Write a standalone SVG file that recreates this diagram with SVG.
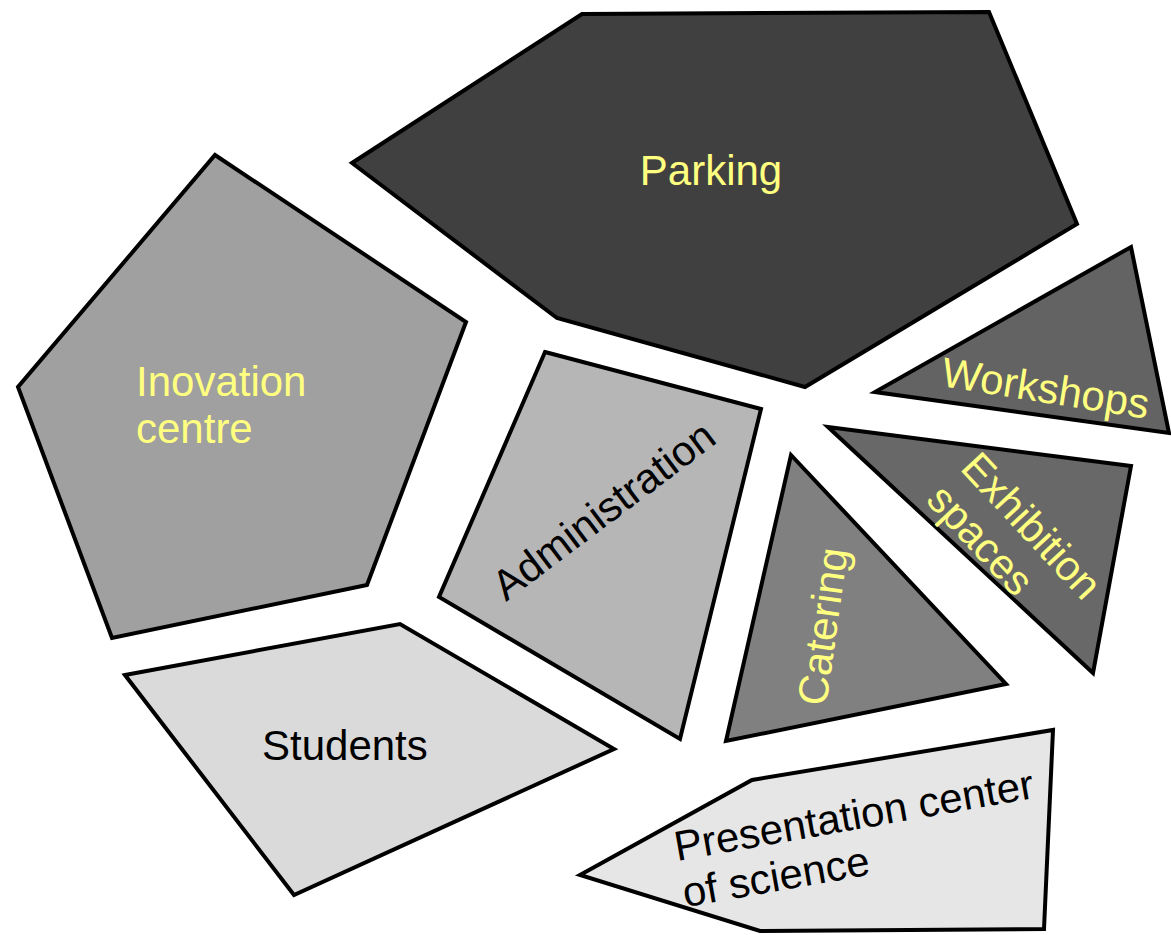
<svg xmlns="http://www.w3.org/2000/svg" width="1171" height="935" viewBox="0 0 1171 935">
<style>
.b{stroke:#000;stroke-width:4;stroke-linejoin:miter}
.t{font-family:"Liberation Sans",Arial,sans-serif;font-size:42px}
.y{fill:#ffff80}
.k{fill:#000}
</style>
<rect width="1171" height="935" fill="#fff"/>
<g id="parking">
<polygon class="b" fill="#404040" points="582,14 989,12 1077,224 805,387 557,318 352,163"/>
<text class="t y" x="711" y="185" text-anchor="middle">Parking</text>
</g>
<g id="workshops">
<polygon class="b" fill="#636363" points="1131,247 1169,433 875,392"/>
<text class="t y" transform="translate(940,386) rotate(9)">Workshops</text>
</g>
<g id="exhibition">
<polygon class="b" fill="#686868" points="828,427 1131,466 1093,673"/>
<text class="t y" transform="translate(959,469) rotate(47)"><tspan x="0" y="0">Exhibition</tspan><tspan x="0" y="47">spaces</tspan></text>
</g>
<g id="catering">
<polygon class="b" fill="#808080" points="791,455 1006,684 726,741"/>
<text class="t y" transform="translate(826,707) rotate(-82)">Catering</text>
</g>
<g id="inovation">
<polygon class="b" fill="#a0a0a0" points="215,155 466,322 367,585 112,638 18,387"/>
<text class="t y" x="136" y="396"><tspan x="136" y="396">Inovation</tspan><tspan x="136" y="443">centre</tspan></text>
</g>
<g id="administration">
<polygon class="b" fill="#b6b6b6" points="545,352 761,409 680,739 439,597"/>
<text class="t k" transform="translate(506,602) rotate(-37)">Administration</text>
</g>
<g id="students">
<polygon class="b" fill="#dadada" points="125,675 400,624 614,749 294,895"/>
<text class="t k" x="262" y="760">Students</text>
</g>
<g id="presentation">
<polygon class="b" fill="#e6e6e6" points="580,875 752,780 1053,730 1044,929 760,931"/>
<text class="t k" transform="translate(677,861) rotate(-10)"><tspan x="0" y="0">Presentation center</tspan><tspan x="0" y="47">of science</tspan></text>
</g>
<g id="connectors"/>
</svg>
